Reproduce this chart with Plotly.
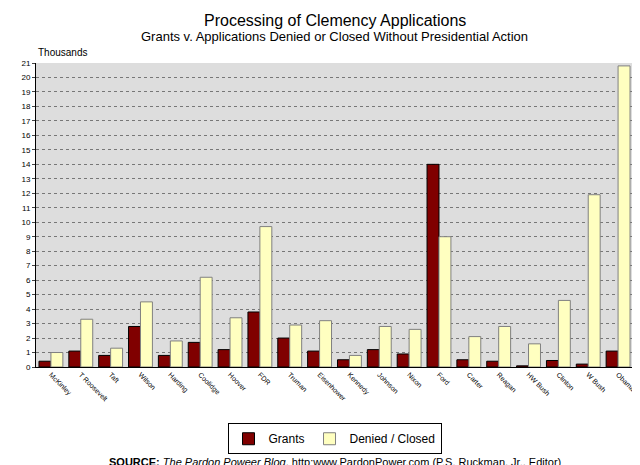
import plotly.graph_objects as go

presidents = ["McKinley", "T Roosevelt", "Taft", "Wilson", "Harding", "Coolidge", "Hoover", "FDR",
              "Truman", "Eisenhower", "Kennedy", "Johnson", "Nixon", "Ford", "Carter", "Reagan",
              "HW Bush", "Clinton", "W Bush", "Obama"]
grants = [0.4, 1.1, 0.8, 2.8, 0.8, 1.7, 1.2, 3.8, 2.0, 1.1, 0.5, 1.2, 0.9, 14.0, 0.5, 0.4, 0.08, 0.45, 0.2, 1.1]
denied = [1.0, 3.3, 1.3, 4.5, 1.8, 6.2, 3.4, 9.7, 2.9, 3.2, 0.8, 2.8, 2.6, 9.0, 2.1, 2.8, 1.6, 4.6, 11.9, 20.8]

fig = go.Figure()
fig.add_bar(x=presidents, y=grants, name="Grants", marker=dict(color="#800000", line=dict(color="black", width=1)))
fig.add_bar(x=presidents, y=denied, name="Denied / Closed", marker=dict(color="#FFFFC0", line=dict(color="#808080", width=1)))

fig.update_layout(
    width=640, height=465,
    paper_bgcolor="white", plot_bgcolor="#DDDDDD",
    font=dict(family="Arial, Liberation Sans", color="black"),
    margin=dict(l=28, r=12, t=55, b=106),
    bargap=0.2, bargroupgap=0,
    showlegend=True,
    legend=dict(orientation="h", x=0.5, xanchor="center", y=-0.185, yanchor="top",
                bordercolor="black", borderwidth=1, font=dict(size=12),
                itemwidth=30, tracegroupgap=0),
    annotations=[
        dict(text="Processing of Clemency Applications", x=0.5, y=463, xref="paper", yref="paper",
             showarrow=False, font=dict(size=16)),
        dict(text="Thousands", x=0, y=1.0, xref="paper", yref="paper", xanchor="left", yanchor="bottom",
             showarrow=False, font=dict(size=10), yshift=3),
        dict(text="<b>SOURCE:</b> <i>The Pardon Poweer Blog</i>, http:www.PardonPower.com (P.S. Ruckman, Jr., Editor)",
             x=0.5, y=0, xref="paper", yref="paper", xanchor="center", yanchor="bottom",
             showarrow=False, font=dict(size=11), yshift=-103),
    ],
)
# titles as paper annotations in pixel terms
fig.layout.annotations[0].update(y=1.0, yanchor="bottom", yshift=32)
fig.add_annotation(text="Grants v. Applications Denied or Closed Without Presidential Action",
                   x=0.5, y=1.0, xref="paper", yref="paper", yanchor="bottom", yshift=17,
                   showarrow=False, font=dict(size=13))
fig.update_xaxes(tickangle=45, tickfont=dict(size=7, color="black"), showline=True, linecolor="black", ticks="")
fig.update_yaxes(range=[0, 21], dtick=1, tickfont=dict(size=8), showline=True, linecolor="black",
                 gridcolor="#777777", griddash="dot", gridwidth=0.6, zeroline=False, ticks="outside", ticklen=3)

fig.write_html("out.html")
